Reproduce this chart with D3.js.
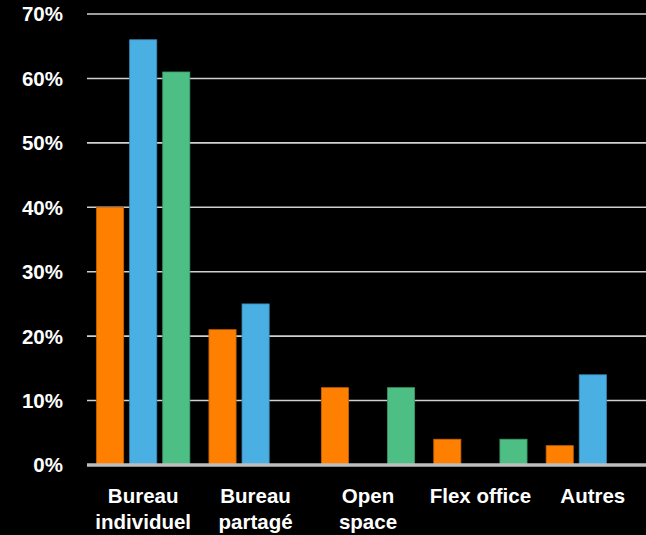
<!DOCTYPE html>
<meta charset="utf-8">
<head>
  <title>Bureaux</title>
</head>
<style>
body { margin: 0; background: #000; }
svg { display: block; background: #000; }
text {
  font-family: "Liberation Sans", Arial, Helvetica, sans-serif;
  font-weight: bold;
  fill: #fff;
}
</style>
<body>
  <svg width="646" height="535"></svg>

  <script src="https://cdnjs.cloudflare.com/ajax/libs/d3/7.8.5/d3.min.js"></script>
  <script>
// categories and series (values in %)
var categories = [["Bureau", "individuel"], ["Bureau", "partagé"], ["Open", "space"], ["Flex office"], ["Autres"]];
var series = ["s1", "s2", "s3"];
var orangeValues = [40, 21, 12, 4, 3];
var blueValues   = [66, 25, 0, 0, 14];
var greenValues  = [61, 0, 12, 4, 0];
var yTicks = [0, 10, 20, 30, 40, 50, 60, 70];

var colors = { s1: "#ff7f00", s2: "#4aafe3", s3: "#4dbf85" };
var strokes = { s1: "#c86400", s2: "#3a8cb8", s3: "#3c9a6a" };
var valuesBySeries = { s1: orangeValues, s2: blueValues, s3: greenValues };

var svg = d3.select("svg");
var plotLeft = 87, plotRight = 649, plotTop = 14, plotBottom = 465;

var x0 = d3.scaleBand()
  .domain(d3.range(categories.length))
  .range([plotLeft, plotRight])
  .paddingInner(0.17)
  .paddingOuter(0.085);

var x1 = d3.scaleBand()
  .domain(series)
  .range([0, x0.bandwidth()])
  .paddingInner(0.18);

var y = d3.scaleLinear()
  .domain([0, 70])
  .range([plotBottom, plotTop]);

// grid lines
svg.append("g")
  .selectAll("line")
  .data(yTicks.filter(function(d) { return d > 0; }))
  .enter()
  .append("line")
  .attr("x1", plotLeft)
  .attr("x2", 646)
  .attr("y1", function(d) { return y(d); })
  .attr("y2", function(d) { return y(d); })
  .attr("stroke", "#d0d0d0")
  .attr("stroke-width", 1.6);

// y labels
svg.append("g")
  .selectAll("text")
  .data(yTicks)
  .enter()
  .append("text")
  .attr("x", 63)
  .attr("y", function(d) { return y(d); })
  .attr("dy", "0.36em")
  .attr("text-anchor", "end")
  .style("font-size", "20.5px")
  .text(function(d) { return d + "%"; });

// bars
var groups = svg.append("g")
  .selectAll("g")
  .data(categories)
  .enter()
  .append("g")
  .attr("transform", function(d, i) { return "translate(" + x0(i) + ",0)"; });

groups.selectAll("rect")
  .data(function(d, i) {
    return series.map(function(s) { return { key: s, value: valuesBySeries[s][i] }; })
      .filter(function(e) { return e.value > 0; });
  })
  .enter()
  .append("rect")
  .attr("x", function(d) { return x1(d.key); })
  .attr("y", function(d) { return y(d.value); })
  .attr("width", x1.bandwidth())
  .attr("height", function(d) { return plotBottom - y(d.value); })
  .attr("fill", function(d) { return colors[d.key]; })
  .attr("stroke", function(d) { return strokes[d.key]; })
  .attr("stroke-width", 0.8);

// baseline
svg.append("line")
  .attr("x1", plotLeft)
  .attr("x2", 646)
  .attr("y1", y(0))
  .attr("y2", y(0))
  .attr("stroke", "#bdbdbd")
  .attr("stroke-width", 3.5);

// x labels
groups.append("text")
  .attr("x", x0.bandwidth() / 2)
  .attr("y", 503)
  .attr("text-anchor", "middle")
  .style("font-size", "20.5px")
  .selectAll("tspan")
  .data(function(d) { return d; })
  .enter()
  .append("tspan")
  .attr("x", x0.bandwidth() / 2)
  .attr("dy", function(d, i) { return i === 0 ? 0 : 26; })
  .text(function(d) { return d; });
  </script>
</body>
</html>
